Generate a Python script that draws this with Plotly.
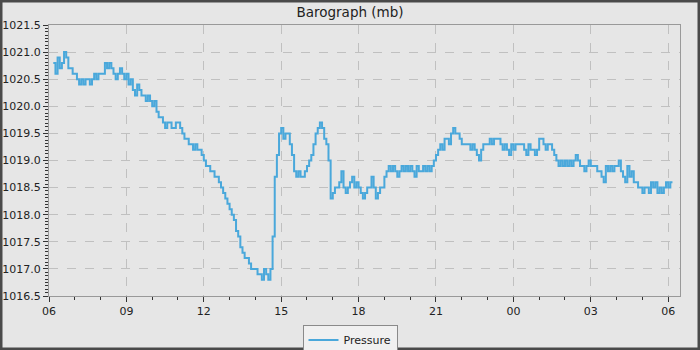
import pandas as pd
import plotly.graph_objects as go

# ---- data (mb, one reading every 5 minutes) ----
start_time = "2024-01-01 06:10"
interval_minutes = 5
h06 = [1020.8, 1020.6, 1020.9, 1020.7, 1020.8, 1021.0, 1020.9, 1020.7, 1020.7, 1020.6]
h07 = [1020.6, 1020.5, 1020.4, 1020.5, 1020.4, 1020.5, 1020.5, 1020.4, 1020.5, 1020.6, 1020.5, 1020.6]
h08 = [1020.6, 1020.6, 1020.8, 1020.7, 1020.8, 1020.7, 1020.6, 1020.5, 1020.6, 1020.7, 1020.6, 1020.5]
h09 = [1020.6, 1020.4, 1020.5, 1020.3, 1020.2, 1020.4, 1020.3, 1020.2, 1020.2, 1020.1, 1020.2, 1020.1]
h10 = [1020.0, 1020.1, 1019.9, 1019.8, 1019.8, 1019.7, 1019.6, 1019.7, 1019.7, 1019.6, 1019.6, 1019.7]
h11 = [1019.7, 1019.6, 1019.5, 1019.4, 1019.4, 1019.3, 1019.3, 1019.2, 1019.3, 1019.2, 1019.2, 1019.1]
h12 = [1019.0, 1018.9, 1018.9, 1018.8, 1018.8, 1018.7, 1018.7, 1018.6, 1018.5, 1018.4, 1018.3, 1018.2]
h13 = [1018.1, 1018.0, 1017.9, 1017.7, 1017.6, 1017.4, 1017.3, 1017.2, 1017.2, 1017.1, 1017.0, 1017.0]
h14 = [1017.0, 1016.9, 1016.9, 1016.8, 1017.0, 1016.9, 1016.8, 1017.0, 1017.6, 1018.7, 1019.1, 1019.5]
h15 = [1019.6, 1019.4, 1019.5, 1019.5, 1019.3, 1019.1, 1018.8, 1018.7, 1018.8, 1018.7, 1018.7, 1018.8]
h16 = [1018.9, 1019.0, 1019.1, 1019.3, 1019.5, 1019.6, 1019.7, 1019.6, 1019.4, 1019.3, 1019.0, 1018.3]
h17 = [1018.4, 1018.5, 1018.5, 1018.6, 1018.8, 1018.5, 1018.4, 1018.5, 1018.6, 1018.7, 1018.5, 1018.6]
h18 = [1018.5, 1018.4, 1018.3, 1018.4, 1018.5, 1018.5, 1018.7, 1018.5, 1018.3, 1018.4, 1018.5, 1018.5]
h19 = [1018.7, 1018.8, 1018.9, 1018.8, 1018.9, 1018.8, 1018.7, 1018.8, 1018.9, 1018.8, 1018.9, 1018.8]
h20 = [1018.9, 1018.8, 1018.7, 1018.9, 1018.8, 1018.8, 1018.9, 1018.8, 1018.9, 1018.8, 1018.9, 1019.0]
h21 = [1019.1, 1019.2, 1019.3, 1019.2, 1019.4, 1019.4, 1019.3, 1019.5, 1019.6, 1019.5, 1019.5, 1019.4]
h22 = [1019.3, 1019.3, 1019.3, 1019.3, 1019.2, 1019.3, 1019.2, 1019.1, 1019.0, 1019.2, 1019.3, 1019.3]
h23 = [1019.3, 1019.4, 1019.3, 1019.4, 1019.4, 1019.4, 1019.3, 1019.2, 1019.3, 1019.2, 1019.1, 1019.3]
h00 = [1019.2, 1019.3, 1019.3, 1019.3, 1019.3, 1019.2, 1019.1, 1019.3, 1019.2, 1019.2, 1019.1, 1019.2]
h01 = [1019.4, 1019.4, 1019.3, 1019.2, 1019.3, 1019.3, 1019.2, 1019.1, 1019.0, 1018.9, 1019.0, 1018.9]
h02 = [1019.0, 1018.9, 1019.0, 1018.9, 1019.0, 1019.1, 1019.0, 1018.9, 1018.9, 1018.8, 1018.9, 1019.0]
h03 = [1018.9, 1018.9, 1018.9, 1018.8, 1018.8, 1018.7, 1018.6, 1018.9, 1018.8, 1018.9, 1018.8, 1018.9]
h04 = [1018.9, 1019.0, 1018.8, 1018.7, 1018.6, 1018.9, 1018.7, 1018.8, 1018.6, 1018.6, 1018.5, 1018.5]
h05 = [1018.4, 1018.5, 1018.5, 1018.4, 1018.6, 1018.5, 1018.6, 1018.4, 1018.5, 1018.4, 1018.5, 1018.6]
h06b = [1018.5, 1018.6, 1018.6]

pressure = (h06 + h07 + h08 + h09 + h10 + h11 + h12 + h13 + h14 + h15 + h16 + h17
            + h18 + h19 + h20 + h21 + h22 + h23 + h00 + h01 + h02 + h03 + h04 + h05 + h06b)
times = pd.date_range(start_time, periods=len(pressure), freq=f"{interval_minutes}min")

series_name = "Pressure"
chart_title = "Barograph (mb)"
x_range = ["2024-01-01 06:00", "2024-01-02 06:27:30"]
y_range = [1016.5, 1021.5]

# ---- figure ----
W, H = 700, 350
ml, mr, mt, mb = 49, 20, 25, 54
pw, ph = W - ml - mr, H - mt - mb

fig = go.Figure()
fig.add_trace(go.Scatter(
    x=times, y=pressure, mode="lines", name=series_name,
    line=dict(color="#4aa8db", width=2, shape="hv"),
))

font_family = "DejaVu Sans"
fig.update_layout(
    width=W, height=H,
    margin=dict(l=ml, r=mr, t=mt, b=mb, autoexpand=False),
    paper_bgcolor="#e6e6e6",
    plot_bgcolor="#e6e6e6",
    font=dict(family=font_family, size=11, color="#222222"),
    title=dict(text=chart_title, x=0.5, xref="container", xanchor="center",
               y=1 - 12 / H, yref="container", yanchor="middle",
               font=dict(size=13.5, family=font_family, color="#222222")),
    showlegend=True,
    legend=dict(orientation="h", xref="container", x=0.5, xanchor="center",
                y=-(340 - 296) / ph, yanchor="middle",
                bgcolor="#f0f0f0", bordercolor="#8a8a8a", borderwidth=1,
                font=dict(size=11, family=font_family, color="#222222"),
                itemwidth=30, tracegroupgap=0),
    shapes=[dict(type="rect", xref="paper", yref="paper",
                 x0=-ml / pw, x1=1 + mr / pw, y0=-mb / ph, y1=1 + mt / ph,
                 line=dict(color="#4a4a4a", width=5), fillcolor="rgba(0,0,0,0)", layer="above")],
)

fig.update_xaxes(
    type="date", range=x_range, automargin=False,
    tickformat="%H", dtick=3 * 3600 * 1000, tick0="2024-01-01 06:00",
    ticks="outside", ticklen=5, tickcolor="#333333", tickwidth=1,
    showgrid=True, gridcolor="#c0c0c0", griddash="dash", gridwidth=1,
    showline=True, linecolor="#999999", linewidth=1, mirror=True,
    zeroline=False,
    tickfont=dict(size=11, family=font_family, color="#222222"),
    minor=dict(dtick=3600 * 1000, tick0="2024-01-01 06:00", ticks="outside", ticklen=3,
               tickcolor="#333333", showgrid=False),
)
fig.update_yaxes(
    range=y_range, dtick=0.5, tick0=1016.5, tickformat=".1f", automargin=False,
    ticks="outside", ticklen=5, tickcolor="#333333", tickwidth=1,
    showgrid=True, gridcolor="#c0c0c0", griddash="dash", gridwidth=1,
    showline=True, linecolor="#999999", linewidth=1, mirror=True,
    zeroline=False,
    tickfont=dict(size=11, family=font_family, color="#222222"),
    minor=dict(dtick=0.0625, tick0=1016.5, ticks="outside", ticklen=3,
               tickcolor="#333333", showgrid=False),
)

fig.write_html(
    "out.html",
    config={"displayModeBar": False},
    post_script="document.body.style.margin='0';document.body.style.overflow='hidden';",
)
